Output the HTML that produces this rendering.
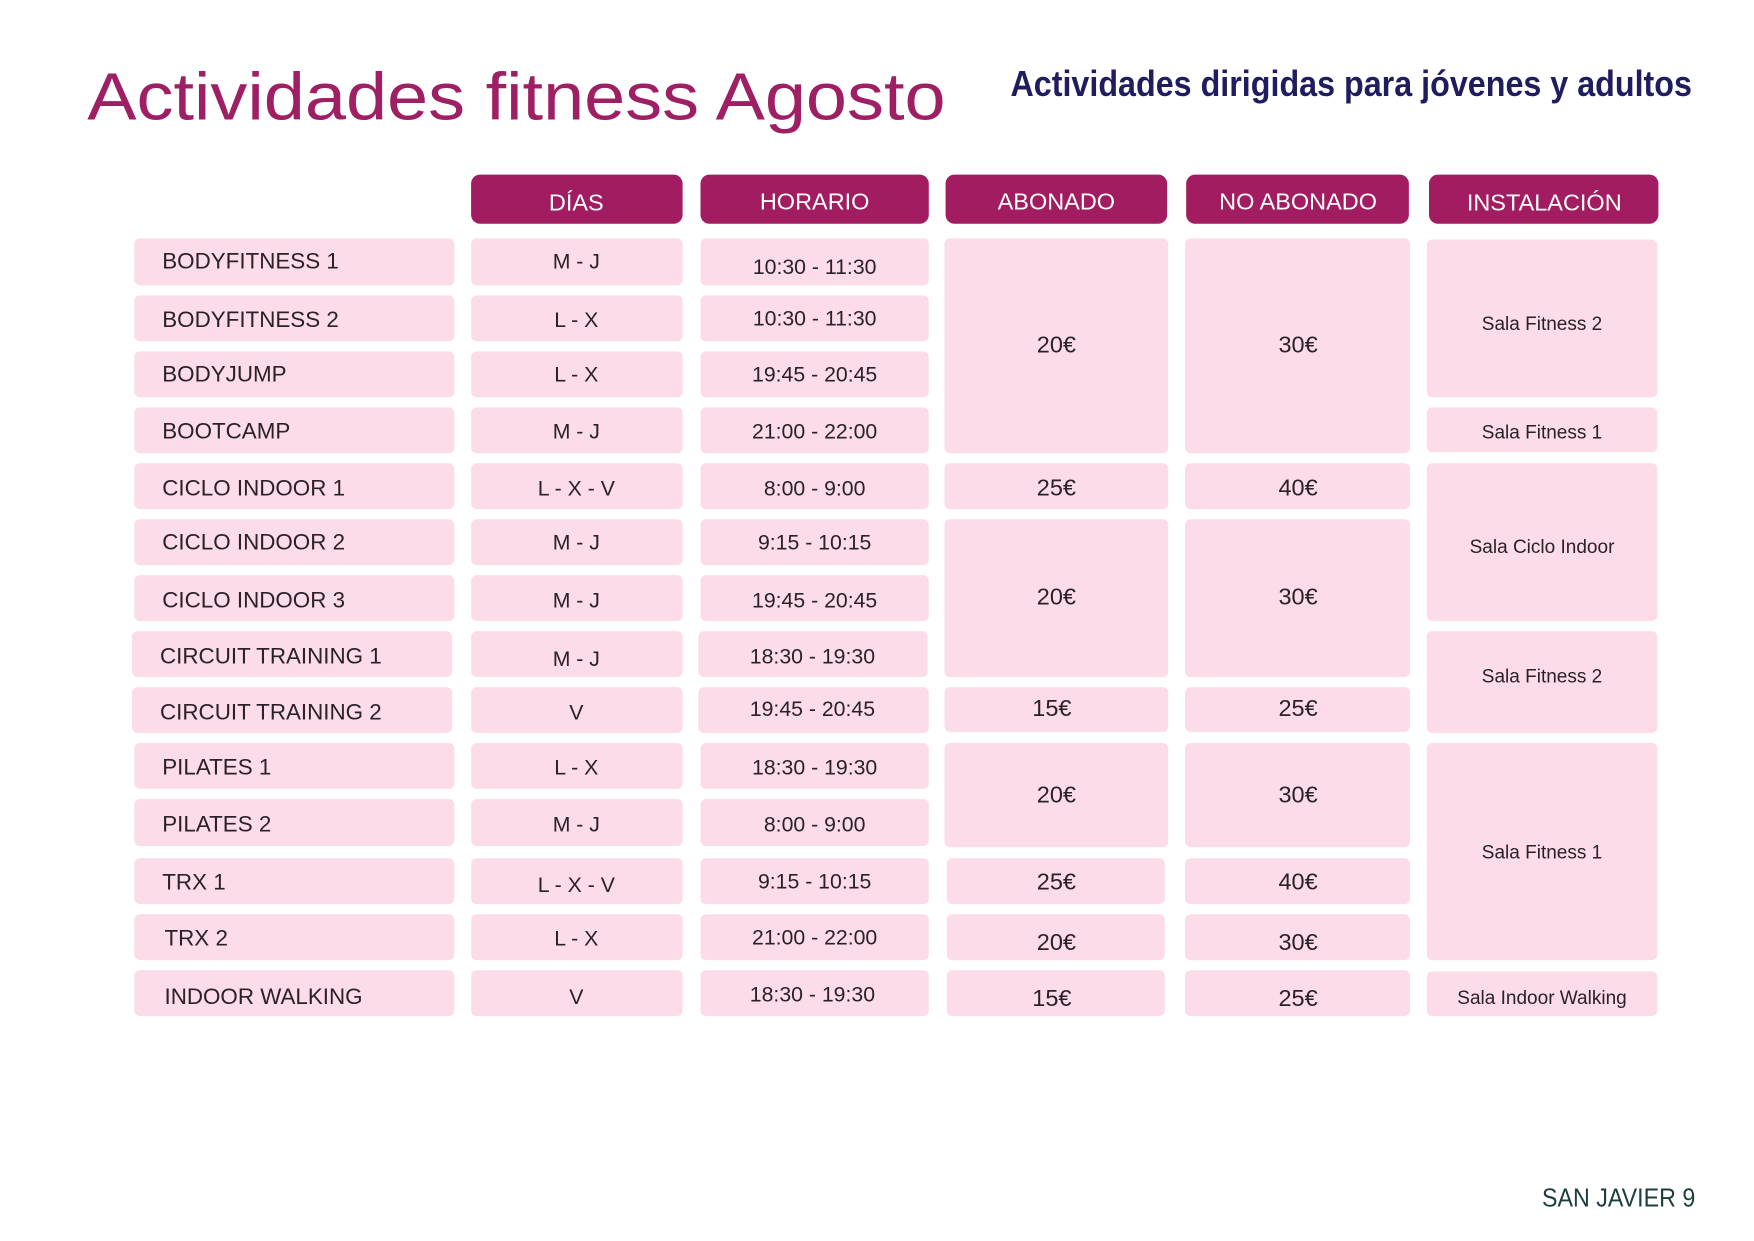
<!DOCTYPE html>
<html><head><meta charset="utf-8"><style>
html,body{margin:0;padding:0;background:#fff;}
svg{display:block;}
text{font-family:"Liberation Sans",sans-serif;}
.n{font-size:20px;fill:#2a2226;}
.c{font-size:19px;fill:#2a2226;text-anchor:middle;}
.p{font-size:21px;fill:#2a2226;text-anchor:middle;}
.s{font-size:17px;fill:#2a2226;text-anchor:middle;}
.h{font-size:21px;fill:#fff;text-anchor:middle;}
</style></head><body>
<svg width="1754" height="1241" viewBox="0 0 1567 1109" preserveAspectRatio="xMinYMin meet" xmlns="http://www.w3.org/2000/svg">
<rect width="1567" height="1109" fill="#fff"/>
<text x="78" y="107" font-size="60" fill="#9e1f63" textLength="767" lengthAdjust="spacingAndGlyphs">Actividades fitness Agosto</text>
<text x="903" y="86" font-size="32" font-weight="bold" fill="#1f1d5e" textLength="609" lengthAdjust="spacingAndGlyphs">Actividades dirigidas para jóvenes y adultos</text>
<g fill="#a21c61">
<rect x="421" y="156" width="189" height="44" rx="8"/>
<rect x="626" y="156" width="204" height="44" rx="8"/>
<rect x="845" y="156" width="198" height="44" rx="8"/>
<rect x="1060" y="156" width="199" height="44" rx="8"/>
<rect x="1277" y="156" width="205" height="44" rx="8"/>
</g>
<text class="h" x="515" y="188">DÍAS</text>
<text class="h" x="728" y="187">HORARIO</text>
<text class="h" x="944" y="187">ABONADO</text>
<text class="h" x="1160" y="187">NO ABONADO</text>
<text class="h" x="1380" y="188">INSTALACIÓN</text>
<g fill="#fcdce9">
<rect x="120" y="213" width="286" height="42" rx="5"/><rect x="421" y="213" width="189" height="42" rx="5"/><rect x="626" y="213" width="204" height="42" rx="5"/>
<rect x="120" y="264" width="286" height="41" rx="5"/><rect x="421" y="264" width="189" height="41" rx="5"/><rect x="626" y="264" width="204" height="41" rx="5"/>
<rect x="120" y="314" width="286" height="41" rx="5"/><rect x="421" y="314" width="189" height="41" rx="5"/><rect x="626" y="314" width="204" height="41" rx="5"/>
<rect x="120" y="364" width="286" height="41" rx="5"/><rect x="421" y="364" width="189" height="41" rx="5"/><rect x="626" y="364" width="204" height="41" rx="5"/>
<rect x="120" y="414" width="286" height="41" rx="5"/><rect x="421" y="414" width="189" height="41" rx="5"/><rect x="626" y="414" width="204" height="41" rx="5"/>
<rect x="120" y="464" width="286" height="41" rx="5"/><rect x="421" y="464" width="189" height="41" rx="5"/><rect x="626" y="464" width="204" height="41" rx="5"/>
<rect x="120" y="514" width="286" height="41" rx="5"/><rect x="421" y="514" width="189" height="41" rx="5"/><rect x="626" y="514" width="204" height="41" rx="5"/>
<rect x="118" y="564" width="286" height="41" rx="5"/><rect x="421" y="564" width="189" height="41" rx="5"/><rect x="624" y="564" width="205" height="41" rx="5"/>
<rect x="118" y="614" width="286" height="41" rx="5"/><rect x="421" y="614" width="189" height="41" rx="5"/><rect x="624" y="614" width="206" height="41" rx="5"/>
<rect x="120" y="664" width="286" height="41" rx="5"/><rect x="421" y="664" width="189" height="41" rx="5"/><rect x="626" y="664" width="204" height="41" rx="5"/>
<rect x="120" y="714" width="286" height="42" rx="5"/><rect x="421" y="714" width="189" height="42" rx="5"/><rect x="626" y="714" width="204" height="42" rx="5"/>
<rect x="120" y="767" width="286" height="41" rx="5"/><rect x="421" y="767" width="189" height="41" rx="5"/><rect x="626" y="767" width="204" height="41" rx="5"/>
<rect x="120" y="817" width="286" height="41" rx="5"/><rect x="421" y="817" width="189" height="41" rx="5"/><rect x="626" y="817" width="204" height="41" rx="5"/>
<rect x="120" y="867" width="286" height="41" rx="5"/><rect x="421" y="867" width="189" height="41" rx="5"/><rect x="626" y="867" width="204" height="41" rx="5"/>
<rect x="844" y="213" width="200" height="192" rx="5"/>
<rect x="844" y="414" width="200" height="41" rx="5"/>
<rect x="844" y="464" width="200" height="141" rx="5"/>
<rect x="844" y="614" width="200" height="40" rx="5"/>
<rect x="844" y="664" width="200" height="93" rx="5"/>
<rect x="846" y="767" width="195" height="41" rx="5"/>
<rect x="846" y="817" width="195" height="41" rx="5"/>
<rect x="846" y="867" width="195" height="41" rx="5"/>
<rect x="1059" y="213" width="201" height="192" rx="5"/>
<rect x="1059" y="414" width="201" height="41" rx="5"/>
<rect x="1059" y="464" width="201" height="141" rx="5"/>
<rect x="1059" y="614" width="201" height="40" rx="5"/>
<rect x="1059" y="664" width="201" height="93" rx="5"/>
<rect x="1059" y="767" width="201" height="41" rx="5"/>
<rect x="1059" y="817" width="201" height="41" rx="5"/>
<rect x="1059" y="867" width="201" height="41" rx="5"/>
<rect x="1275" y="214" width="206" height="141" rx="5"/>
<rect x="1275" y="364" width="206" height="40" rx="5"/>
<rect x="1275" y="414" width="206" height="141" rx="5"/>
<rect x="1275" y="564" width="206" height="91" rx="5"/>
<rect x="1275" y="664" width="206" height="194" rx="5"/>
<rect x="1275" y="868" width="206" height="40" rx="5"/>
</g>
<text class="n" x="145" y="240">BODYFITNESS 1</text>
<text class="n" x="145" y="292">BODYFITNESS 2</text>
<text class="n" x="145" y="341">BODYJUMP</text>
<text class="n" x="145" y="392">BOOTCAMP</text>
<text class="n" x="145" y="443">CICLO INDOOR 1</text>
<text class="n" x="145" y="491">CICLO INDOOR 2</text>
<text class="n" x="145" y="543">CICLO INDOOR 3</text>
<text class="n" x="143" y="593">CIRCUIT TRAINING 1</text>
<text class="n" x="143" y="643">CIRCUIT TRAINING 2</text>
<text class="n" x="145" y="692">PILATES 1</text>
<text class="n" x="145" y="743">PILATES 2</text>
<text class="n" x="145" y="795">TRX 1</text>
<text class="n" x="147" y="845">TRX 2</text>
<text class="n" x="147" y="897">INDOOR WALKING</text>
<text class="c" x="515" y="240">M - J</text>
<text class="c" x="515" y="292">L - X</text>
<text class="c" x="515" y="341">L - X</text>
<text class="c" x="515" y="392">M - J</text>
<text class="c" x="515" y="443">L - X - V</text>
<text class="c" x="515" y="491">M - J</text>
<text class="c" x="515" y="543">M - J</text>
<text class="c" x="515" y="595">M - J</text>
<text class="c" x="515" y="643">V</text>
<text class="c" x="515" y="692">L - X</text>
<text class="c" x="515" y="743">M - J</text>
<text class="c" x="515" y="797">L - X - V</text>
<text class="c" x="515" y="845">L - X</text>
<text class="c" x="515" y="897">V</text>
<text class="c" x="728" y="245">10:30 - 11:30</text>
<text class="c" x="728" y="291">10:30 - 11:30</text>
<text class="c" x="728" y="341">19:45 - 20:45</text>
<text class="c" x="728" y="392">21:00 - 22:00</text>
<text class="c" x="728" y="443">8:00 - 9:00</text>
<text class="c" x="728" y="491">9:15 - 10:15</text>
<text class="c" x="728" y="543">19:45 - 20:45</text>
<text class="c" x="726" y="593">18:30 - 19:30</text>
<text class="c" x="726" y="640">19:45 - 20:45</text>
<text class="c" x="728" y="692">18:30 - 19:30</text>
<text class="c" x="728" y="743">8:00 - 9:00</text>
<text class="c" x="728" y="794">9:15 - 10:15</text>
<text class="c" x="728" y="844">21:00 - 22:00</text>
<text class="c" x="726" y="895">18:30 - 19:30</text>
<text class="p" x="944" y="315">20€</text>
<text class="p" x="944" y="443">25€</text>
<text class="p" x="944" y="540">20€</text>
<text class="p" x="940" y="640">15€</text>
<text class="p" x="944" y="717">20€</text>
<text class="p" x="944" y="795">25€</text>
<text class="p" x="944" y="849">20€</text>
<text class="p" x="940" y="899">15€</text>
<text class="p" x="1160" y="315">30€</text>
<text class="p" x="1160" y="443">40€</text>
<text class="p" x="1160" y="540">30€</text>
<text class="p" x="1160" y="640">25€</text>
<text class="p" x="1160" y="717">30€</text>
<text class="p" x="1160" y="795">40€</text>
<text class="p" x="1160" y="849">30€</text>
<text class="p" x="1160" y="899">25€</text>
<text class="s" x="1378" y="295">Sala Fitness 2</text>
<text class="s" x="1378" y="392">Sala Fitness 1</text>
<text class="s" x="1378" y="494">Sala Ciclo Indoor</text>
<text class="s" x="1378" y="610">Sala Fitness 2</text>
<text class="s" x="1378" y="767">Sala Fitness 1</text>
<text class="s" x="1378" y="897">Sala Indoor Walking</text>
<text x="1378" y="1078" font-size="23" fill="#1e3d3d" textLength="137" lengthAdjust="spacingAndGlyphs">SAN JAVIER 9</text>
</svg>
</body></html>
